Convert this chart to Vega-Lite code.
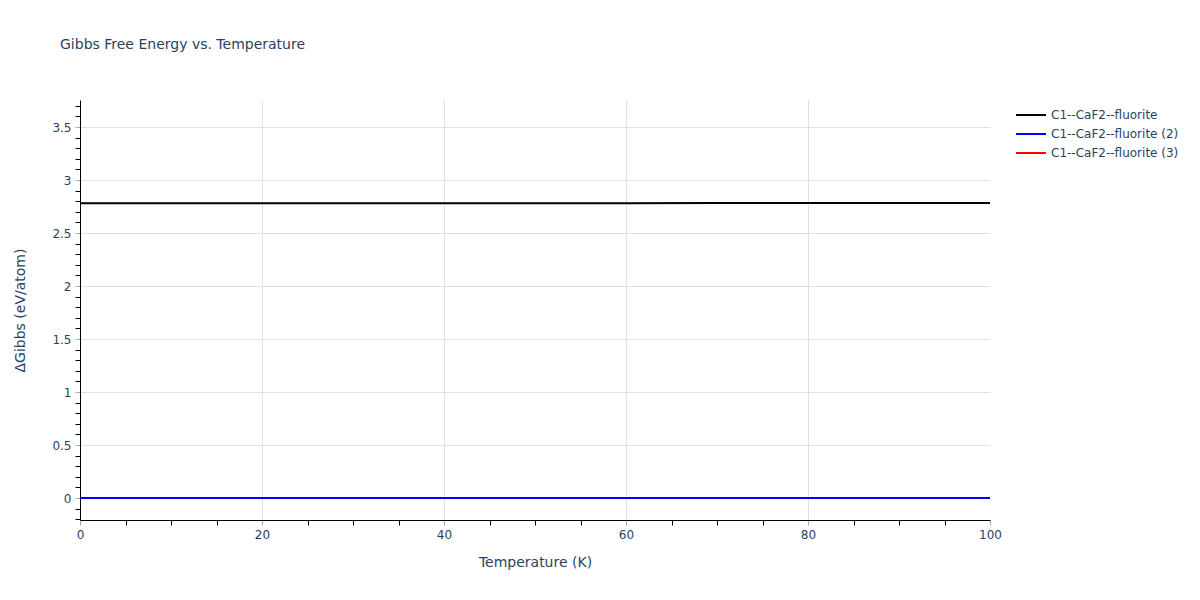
{
  "$schema": "https://vega.github.io/schema/vega-lite/v6.json",
  "autosize": "none",
  "width": 910,
  "height": 420,
  "padding": {"left": 80, "top": 100, "right": 210, "bottom": 80},
  "background": "white",
  "title": {"text": "Gibbs Free Energy vs. Temperature", "anchor": "start", "frame": "group", "dx": -20, "offset": 48, "fontSize": 14, "font": "DejaVu Sans", "fontWeight": "normal", "color": "#2a3f5f"},
  "config": {"view": {"stroke": null}, "font": "DejaVu Sans"},
  "data": {"values": [
    {"T": 0, "G": 2.780, "s": "C1--CaF2--fluorite"},
    {"T": 10, "G": 2.7803, "s": "C1--CaF2--fluorite"},
    {"T": 20, "G": 2.7806, "s": "C1--CaF2--fluorite"},
    {"T": 30, "G": 2.781, "s": "C1--CaF2--fluorite"},
    {"T": 40, "G": 2.7813, "s": "C1--CaF2--fluorite"},
    {"T": 50, "G": 2.7817, "s": "C1--CaF2--fluorite"},
    {"T": 60, "G": 2.782, "s": "C1--CaF2--fluorite"},
    {"T": 70, "G": 2.7824, "s": "C1--CaF2--fluorite"},
    {"T": 80, "G": 2.7828, "s": "C1--CaF2--fluorite"},
    {"T": 90, "G": 2.7832, "s": "C1--CaF2--fluorite"},
    {"T": 100, "G": 2.7836, "s": "C1--CaF2--fluorite"},
    {"T": 0, "G": 0, "s": "C1--CaF2--fluorite (3)"},
    {"T": 50, "G": 0, "s": "C1--CaF2--fluorite (3)"},
    {"T": 100, "G": 0, "s": "C1--CaF2--fluorite (3)"},
    {"T": 0, "G": 0, "s": "C1--CaF2--fluorite (2)"},
    {"T": 50, "G": 0, "s": "C1--CaF2--fluorite (2)"},
    {"T": 100, "G": 0, "s": "C1--CaF2--fluorite (2)"}
  ]},
  "layer": [
    {
      "mark": {"type": "line", "strokeWidth": 2, "clip": true},
      "encoding": {
        "x": {"field": "T", "type": "quantitative", "scale": {"domain": [0, 100], "nice": false, "zero": false},
          "axis": {"values": [0, 20, 40, 60, 80, 100], "title": "Temperature (K)", "titleFont": "DejaVu Sans", "titleFontSize": 14, "titleFontWeight": "normal", "titleColor": "#2a3f5f", "titlePadding": 15,
            "labelFont": "DejaVu Sans", "labelFontSize": 12, "labelColor": "#2a3f5f", "labelPadding": 4, "labelFlush": false,
            "domainColor": "#000000", "domainWidth": 1, "tickColor": "#aaaaaa", "tickSize": 5,
            "grid": true, "gridColor": "#e0e0e0", "gridOpacity": {"condition": {"test": "datum.value == 0 || datum.value == 100", "value": 0}, "value": 1}}},
        "y": {"field": "G", "type": "quantitative", "scale": {"domain": [-0.207, 3.755], "nice": false, "zero": false},
          "axis": {"values": [0, 0.5, 1, 1.5, 2, 2.5, 3, 3.5], "format": "~g", "title": "ΔGibbs (eV/atom)", "titleFont": "DejaVu Sans", "titleFontSize": 14, "titleFontWeight": "normal", "titleColor": "#2a3f5f", "titlePadding": 24,
            "labelFont": "DejaVu Sans", "labelFontSize": 12, "labelColor": "#2a3f5f", "labelPadding": 4, "labelFlush": false,
            "domainColor": "#000000", "domainWidth": 1, "tickColor": "#aaaaaa", "tickSize": 5,
            "grid": true, "gridColor": "#e0e0e0"}},
        "color": {"field": "s", "type": "nominal",
          "scale": {"domain": ["C1--CaF2--fluorite", "C1--CaF2--fluorite (2)", "C1--CaF2--fluorite (3)"], "range": ["#000000", "#0000ff", "#ff0000"]},
          "legend": {"title": null, "orient": "none", "legendX": 945, "legendY": 9, "symbolType": "M-3,0H3", "symbolSize": 100, "symbolStrokeWidth": 2, "labelFont": "DejaVu Sans", "labelFontSize": 12, "labelColor": "#2a3f5f", "rowPadding": 7, "labelOffset": 14}},
        "order": {"field": "s", "sort": "ascending"}
      }
    },
    {
      "mark": {"type": "point", "opacity": 0},
      "encoding": {
        "x": {"field": "T", "type": "quantitative",
          "axis": {"orient": "bottom", "values": [5, 10, 15, 25, 30, 35, 45, 50, 55, 65, 70, 75, 85, 90, 95], "labels": false, "title": null, "grid": false, "domain": false, "tickColor": "#000000", "tickSize": 5}},
        "y": {"field": "G", "type": "quantitative",
          "axis": {"orient": "left", "values": [-0.2, -0.1, 0.1, 0.2, 0.3, 0.4, 0.6, 0.7, 0.8, 0.9, 1.1, 1.2, 1.3, 1.4, 1.6, 1.7, 1.8, 1.9, 2.1, 2.2, 2.3, 2.4, 2.6, 2.7, 2.8, 2.9, 3.1, 3.2, 3.3, 3.4, 3.6, 3.7], "labels": false, "title": null, "grid": false, "domain": false, "tickColor": "#000000", "tickSize": 5}}
      }
    }
  ],
  "resolve": {"axis": {"x": "independent", "y": "independent"}}
}
